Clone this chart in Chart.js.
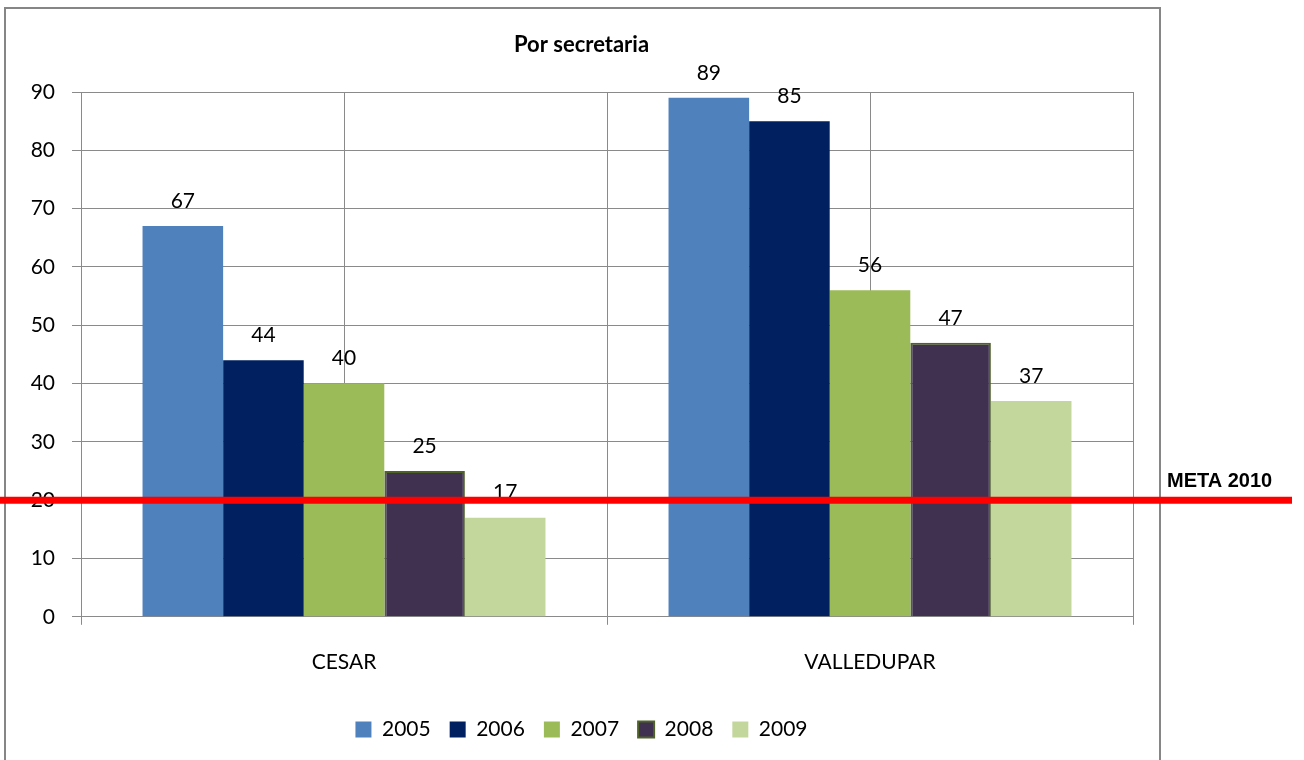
<!DOCTYPE html>
<html>
<head>
<meta charset="utf-8">
<script src="https://cdn.jsdelivr.net/npm/chart.js@4/dist/chart.umd.min.js"></script>
<style>
  html, body { margin: 0; padding: 0; background: #fff; }
  #wrap { width: 1304px; height: 760px; position: relative; }
</style>
</head>
<body>
<div id="wrap"><canvas id="chart"></canvas></div>
<script>
const categories = ['CESAR', 'VALLEDUPAR'];
const years = ['2005', '2006', '2007', '2008', '2009'];
const values2005 = [67, 89];
const values2006 = [44, 85];
const values2007 = [40, 56];
const values2008 = [25, 47];
const values2009 = [17, 37];
const metaValue = 20;
const metaLabel = 'META 2010';
const yTicks = [0, 10, 20, 30, 40, 50, 60, 70, 80, 90];

const seriesValues = [values2005, values2006, values2007, values2008, values2009];
const fills = ['#4F81BD', '#002060', '#9BBB59', '#403151', '#C3D69B'];
const borders = ['#4F81BD', '#002060', '#9BBB59', '#4F6228', '#C3D69B'];
const gridColor = '#8a8a8a';
const labelFont = 'Lato, "Open Sans", sans-serif';

// frame, red target line and bar value labels
const decorPlugin = {
  id: 'decor',
  beforeDraw(chart) {
    const ctx = chart.ctx;
    ctx.save();
    ctx.fillStyle = '#fff';
    ctx.fillRect(0, 0, chart.width, chart.height);
    ctx.strokeStyle = '#868686';
    ctx.lineWidth = 2;
    ctx.strokeRect(5, 8, 1155, 770);
    ctx.restore();
  },
  afterDatasetsDraw(chart) {
    const ctx = chart.ctx;
    ctx.save();
    ctx.font = '21px ' + labelFont;
    ctx.fillStyle = '#000';
    ctx.textAlign = 'center';
    ctx.textBaseline = 'middle';
    chart.data.datasets.forEach((ds, i) => {
      const meta = chart.getDatasetMeta(i);
      meta.data.forEach((bar, j) => {
        ctx.fillText(String(ds.data[j]), bar.x, bar.y - 25);
      });
    });

    const y = chart.scales.y.getPixelForValue(metaValue);
    ctx.strokeStyle = '#FF0000';
    ctx.lineWidth = 7;
    ctx.beginPath();
    ctx.moveTo(0, y);
    ctx.lineTo(1292, y);
    ctx.stroke();

    ctx.font = 'bold 20px "Liberation Sans", Arial, sans-serif';
    ctx.textAlign = 'left';
    ctx.textBaseline = 'alphabetic';
    ctx.fillText(metaLabel, 1167, y - 13);
    ctx.restore();
  }
};

new Chart(document.getElementById('chart'), {
  type: 'bar',
  data: {
    labels: categories,
    datasets: years.map((yr, i) => ({
      label: yr,
      data: seriesValues[i],
      backgroundColor: fills[i],
      borderColor: borders[i],
      borderWidth: i === 3 ? 2 : 0,
      categoryPercentage: 0.766,
      barPercentage: 1.0
    }))
  },
  options: {
    responsive: true,
    maintainAspectRatio: false,
    animation: false,
    layout: { padding: { left: 30, right: 171, top: 30, bottom: 10 } },
    plugins: {
      title: {
        display: true,
        text: 'Por secretaria',
        color: '#000',
        font: { family: labelFont, size: 22, weight: 'bold' },
        padding: { top: 2, bottom: 33.6 }
      },
      legend: {
        position: 'bottom',
        labels: {
          color: '#000',
          font: { family: labelFont, size: 21 },
          boxWidth: 16,
          boxHeight: 16,
          padding: 19
        }
      },
      tooltip: { enabled: false }
    },
    scales: {
      x: {
        grid: { color: gridColor, offset: true, tickLength: 8 },
        border: { color: gridColor },
        ticks: { color: '#000', font: { family: labelFont, size: 21 }, padding: 25 }
      },
      x2: {
        type: 'category',
        labels: categories,
        position: 'top',
        offset: true,
        grid: { color: gridColor, offset: false, drawTicks: false },
        border: { display: false },
        ticks: { display: false },
        afterFit(scale) { scale.height = 0; }
      },
      y: {
        min: 0,
        max: 90,
        afterBuildTicks(scale) { scale.ticks = yTicks.map(v => ({ value: v })); },
        grid: { color: gridColor, tickLength: 9 },
        border: { color: gridColor },
        ticks: { color: '#000', font: { family: labelFont, size: 21 }, padding: 17 },
        afterFit(scale) { scale.width = 51; }
      }
    }
  },
  plugins: [decorPlugin]
});
</script>
</body>
</html>
